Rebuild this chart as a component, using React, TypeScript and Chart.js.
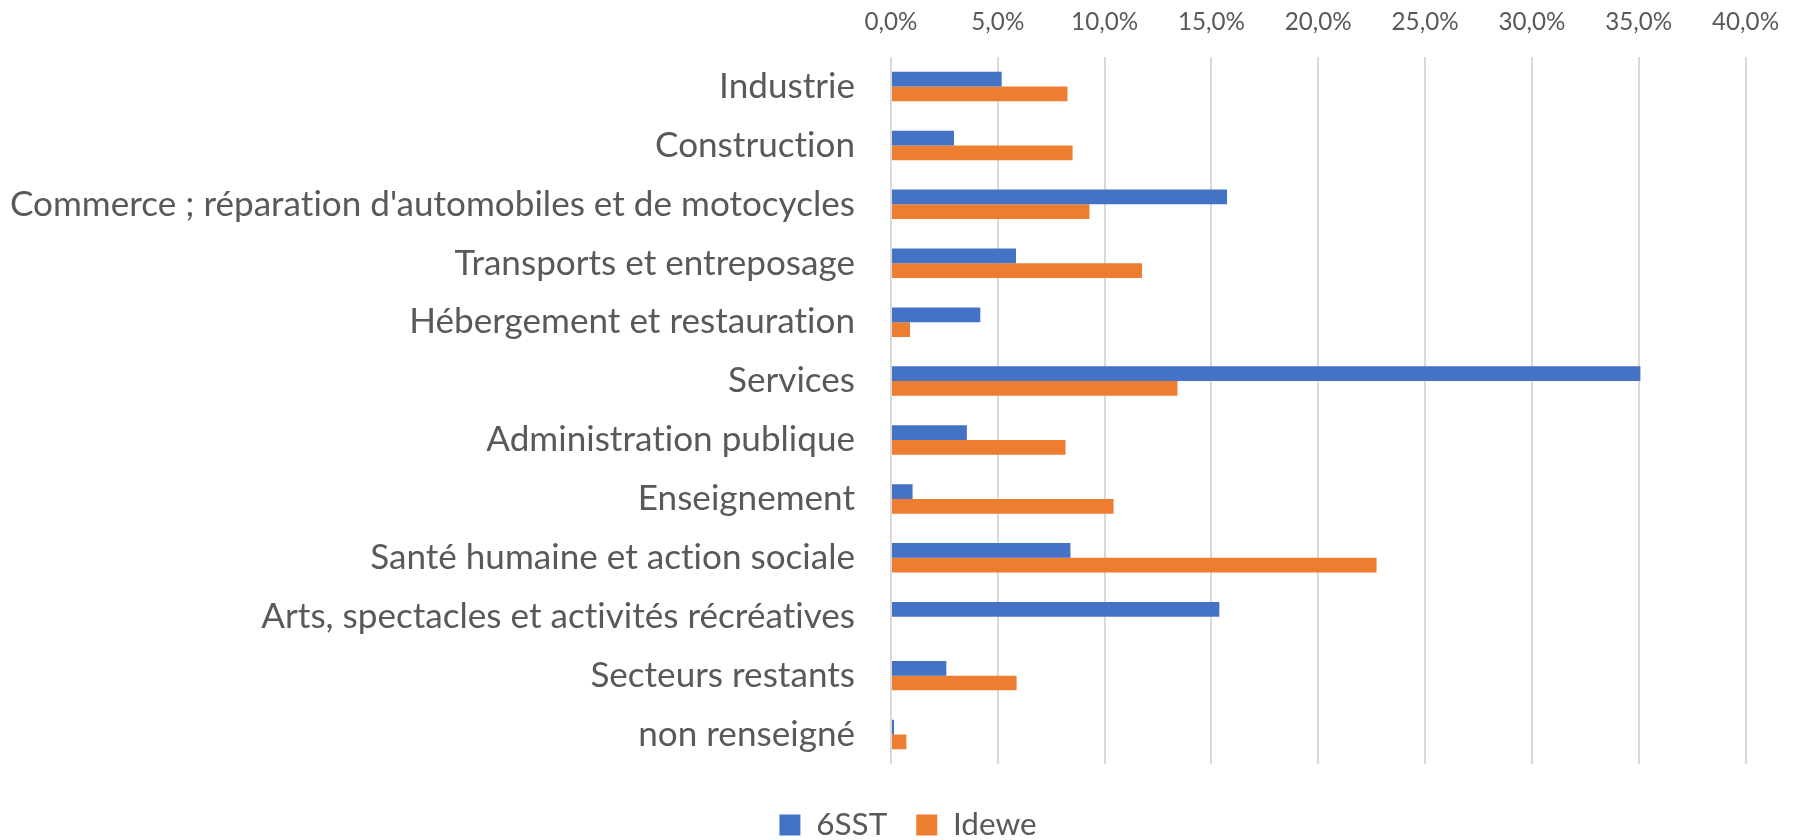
import React, { useEffect, useRef } from 'react';
import { Chart, registerables } from 'chart.js';

Chart.register(...registerables);

const categories = [
  'Industrie',
  'Construction',
  "Commerce ; réparation d'automobiles et de motocycles",
  'Transports et entreposage',
  'Hébergement et restauration',
  'Services',
  'Administration publique',
  'Enseignement',
  'Santé humaine et action sociale',
  'Arts, spectacles et activités récréatives',
  'Secteurs restants',
  'non renseigné',
];
const seriesNames = ['6SST', 'Idewe'];
const series6SST = [5.18, 2.95, 15.73, 5.85, 4.18, 35.08, 3.55, 1.01, 8.4, 15.37, 2.59, 0.14];
const seriesIdewe = [8.26, 8.5, 9.29, 11.75, 0.89, 13.41, 8.17, 10.42, 22.73, 0, 5.88, 0.72];
const xMin = 0;
const xMax = 40;
const xStep = 5;

const FAMILY = 'Lato, "Open Sans", sans-serif';
const TEXT = '#595959';
const BLUE = '#4472C4';
const ORANGE = '#ED7D31';
const GRID = '#D9D9D9';

function fitSize(text: string, target: number): number {
  const ctx = document.createElement('canvas').getContext('2d')!;
  ctx.font = `100px ${FAMILY}`;
  const w = ctx.measureText(text).width;
  return Math.round(((100 * target) / w) * 10) / 10;
}

const noLigatures = {
  id: 'noLigatures',
  beforeDraw(chart: any) {
    try {
      (chart.ctx as any).letterSpacing = '0.01px';
    } catch (e) {}
  },
};

const shiftLegend = {
  id: 'shiftLegend',
  afterLayout(chart: any) {
    const lg = chart.legend;
    if (lg) {
      lg.left += 35;
      lg.right += 35;
    }
  },
};

export default function App() {
  const ref = useRef<HTMLCanvasElement | null>(null);

  useEffect(() => {
    document.body.style.margin = '0';
    const catSize = fitSize(categories[2], 845);
    const tickSize = fitSize('10,0%', 67);
    const legSize = fitSize('6SST', 71);
    const legPad = 29;
    const dummyH = 32 - legSize / 2;
    const bottomPad = 5 - legSize / 2;

    const chart = new Chart(ref.current!, {
      type: 'bar',
      data: {
        labels: categories,
        datasets: [
          {
            label: seriesNames[0],
            data: series6SST,
            backgroundColor: BLUE,
            borderWidth: 0,
            xAxisID: 'x',
            yAxisID: 'y',
            categoryPercentage: 0.5,
            barPercentage: 1,
          },
          {
            label: seriesNames[1],
            data: seriesIdewe,
            backgroundColor: ORANGE,
            borderWidth: 0,
            xAxisID: 'x',
            yAxisID: 'y',
            categoryPercentage: 0.5,
            barPercentage: 1,
          },
        ],
      },
      options: {
        indexAxis: 'y',
        responsive: false,
        animation: false,
        devicePixelRatio: 1,
        layout: { padding: { left: 0, right: 53, top: 0, bottom: bottomPad } },
        plugins: {
          tooltip: { enabled: false },
          legend: {
            position: 'bottom',
            labels: {
              boxWidth: 21,
              boxHeight: 21,
              padding: legPad,
              color: TEXT,
              font: { family: FAMILY, size: legSize },
            },
          },
        },
        scales: {
          x: {
            type: 'linear',
            position: 'top',
            min: xMin,
            max: xMax,
            ticks: {
              stepSize: xStep,
              color: TEXT,
              font: { family: FAMILY, size: tickSize },
              padding: 20,
              callback: (v: any) => Number(v).toFixed(1).replace('.', ',') + '%',
            },
            grid: { color: GRID, lineWidth: 2, drawTicks: false },
            border: { display: false },
            afterFit: (s: any) => {
              s.height = 55;
            },
          },
          xb: {
            type: 'linear',
            axis: 'x',
            position: 'bottom',
            display: true,
            grid: { display: false, drawTicks: false },
            border: { display: false },
            ticks: { display: false },
            afterFit: (s: any) => {
              s.height = dummyH;
            },
          },
          y: {
            type: 'category',
            grid: { display: false, drawTicks: false },
            border: { display: false },
            ticks: {
              color: TEXT,
              font: { family: FAMILY, size: catSize },
              padding: 36,
              autoSkip: false,
            },
            afterFit: (s: any) => {
              s.width = 891;
            },
          },
        },
      },
      plugins: [noLigatures, shiftLegend],
    } as any);
    return () => chart.destroy();
  }, []);

  return (
    <div style={{ width: 1799, height: 840 }}>
      <canvas ref={ref} width={1799} height={840} style={{ display: 'block' }} />
    </div>
  );
}
